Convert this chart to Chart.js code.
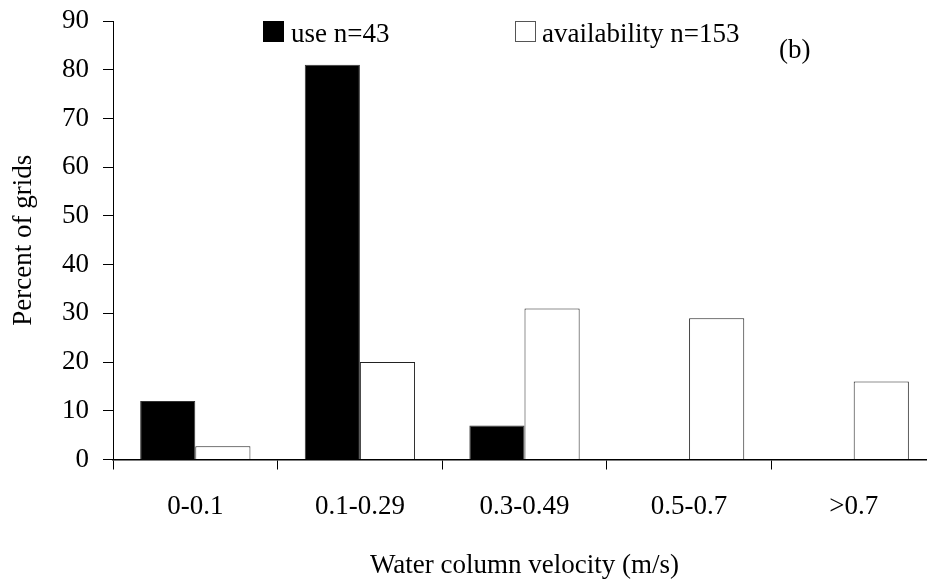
<!DOCTYPE html>
<html>
<head>
<meta charset="utf-8">
<script src="https://cdn.jsdelivr.net/npm/chart.js@4.4.0/dist/chart.umd.min.js"></script>
<style>
    html, body { margin: 0; padding: 0; background: #fff; overflow: hidden; }
    #wrap { width: 927px; height: 584px; overflow: hidden; }
</style>
</head>
<body>
<div id="wrap">
    <canvas id="velocityChart" width="945" height="584"></canvas>
</div>
<script>
// Data
const categories = ['0-0.1', '0.1-0.29', '0.3-0.49', '0.5-0.7', '>0.7'];
const useValues = [12, 81, 7, 0, 0];
const availabilityValues = [2.7, 20, 31, 29, 16];
const seriesLabels = ['use n=43', 'availability n=153'];
const panelLabel = '(b)';
const yTitle = 'Percent of grids';
const xTitle = 'Water column velocity (m/s)';

const FONT = '"Liberation Serif", "Times New Roman", serif';

// legend drawn inside the plot, like the original figure
const figureLegend = {
    id: 'figureLegend',
    afterDraw(chart) {
        const ctx = chart.ctx;
        ctx.save();
        ctx.font = '27px ' + FONT;
        ctx.fillStyle = '#000';
        ctx.textBaseline = 'alphabetic';

        // use
        ctx.fillRect(263, 21, 21, 21);
        ctx.fillText(seriesLabels[0], 291, 42);

        // availability
        ctx.strokeStyle = '#555';
        ctx.lineWidth = 1;
        ctx.strokeRect(515.5, 21.5, 20, 20);
        ctx.fillText(seriesLabels[1], 542, 42);

        ctx.fillText(panelLabel, 779, 58);
        ctx.restore();
    }
};

const ctx = document.getElementById('velocityChart');

new Chart(ctx, {
    type: 'bar',
    data: {
        labels: categories,
        datasets: [{
            label: seriesLabels[0],
            data: useValues,
            backgroundColor: '#000',
            borderColor: '#333',
            borderWidth: 1,
            categoryPercentage: 0.67,
            barPercentage: 1.0
        }, {
            label: seriesLabels[1],
            data: availabilityValues,
            backgroundColor: '#fff',
            borderColor: '#222',
            borderWidth: 1,
            categoryPercentage: 0.67,
            barPercentage: 1.0
        }]
    },
    options: {
        responsive: false,
        animation: false,
        layout: {
            padding: { top: 21, right: 9, left: 0, bottom: 0 }
        },
        plugins: {
            legend: { display: false },
            tooltip: { enabled: false }
        },
        scales: {
            x: {
                offset: true,
                grid: {
                    offset: true,
                    drawOnChartArea: false,
                    drawTicks: true,
                    tickLength: 10,
                    tickColor: '#000',
                    tickWidth: 1
                },
                border: { color: '#000', width: 1.5 },
                ticks: {
                    color: '#000',
                    padding: 21,
                    maxRotation: 0,
                    font: { family: FONT, size: 27 }
                },
                title: {
                    display: true,
                    text: xTitle,
                    color: '#000',
                    padding: { top: 0, bottom: 2 },
                    font: { family: FONT, size: 27 }
                },
                afterFit(scale) {
                    scale.height = 124.5;
                    scale.paddingLeft = 0;
                    scale.paddingRight = 0;
                }
            },
            y: {
                min: 0,
                max: 90,
                grid: {
                    drawOnChartArea: false,
                    drawTicks: true,
                    tickLength: 10,
                    tickColor: '#000',
                    tickWidth: 1
                },
                border: { color: '#000', width: 1 },
                ticks: {
                    stepSize: 10,
                    color: '#000',
                    padding: 14,
                    font: { family: FONT, size: 27 }
                },
                title: {
                    display: true,
                    text: yTitle,
                    color: '#000',
                    padding: { top: 8, bottom: 0 },
                    font: { family: FONT, size: 27 }
                },
                afterFit(scale) {
                    scale.width = 113;
                    scale.paddingTop = 0;
                    scale.paddingBottom = 0;
                }
            }
        }
    },
    plugins: [figureLegend]
});
</script>
</body>
</html>
